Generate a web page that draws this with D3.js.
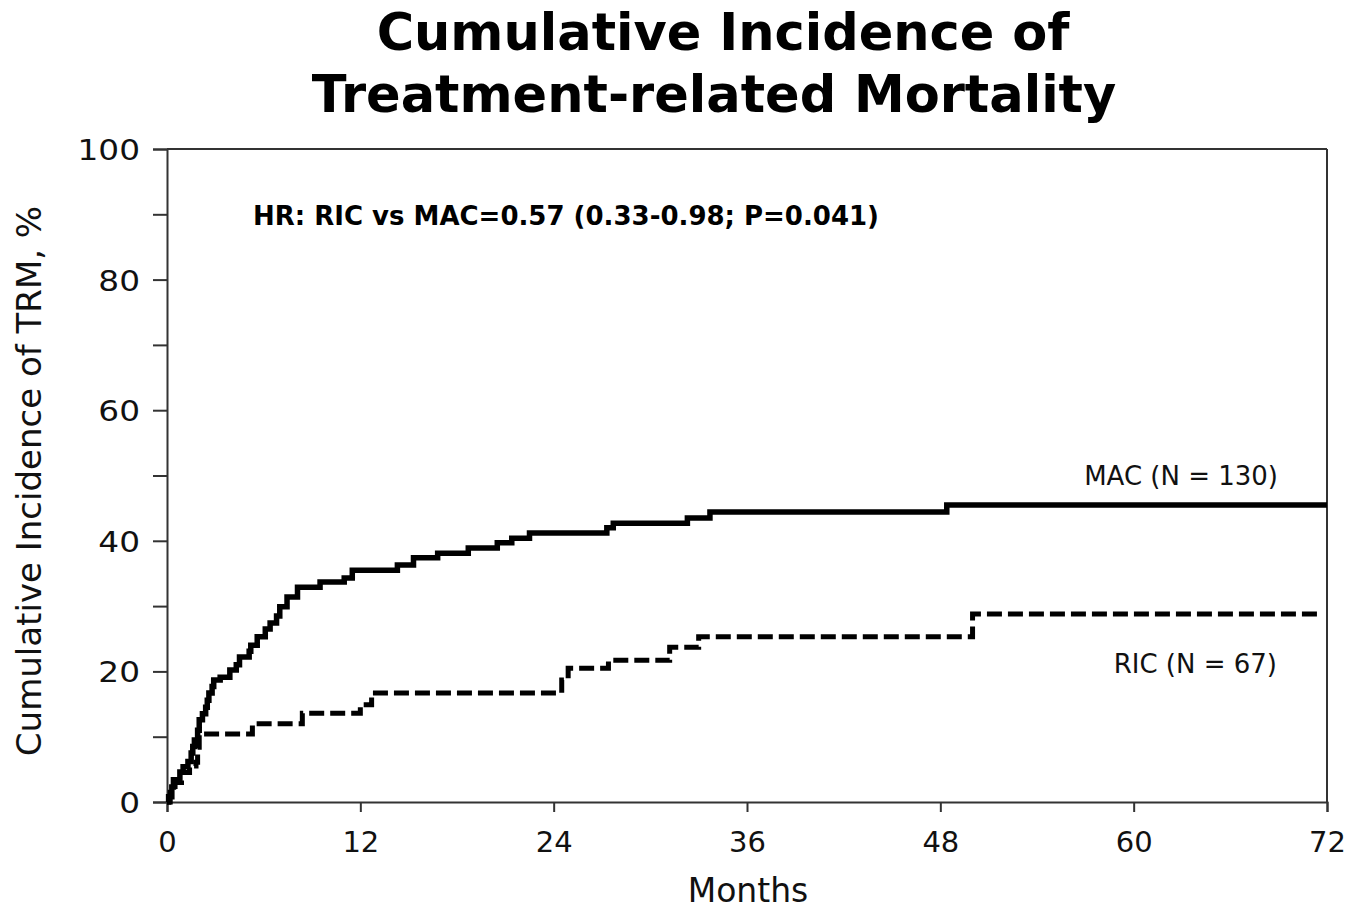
<!DOCTYPE html>
<html>
<head>
<meta charset="utf-8">
<script src="https://cdn.jsdelivr.net/npm/d3@7"></script>
<style>
  html, body { margin: 0; padding: 0; background: #fff; }
  svg { display: block; }
</style>
</head>
<body>
<svg id="chart" width="1364" height="911"></svg>
<script>
// ---- Data ----
const titleLines = ["Cumulative Incidence of", "Treatment-related Mortality"];
const xTicks = [0, 12, 24, 36, 48, 60, 72];
const yTicks = [0, 10, 20, 30, 40, 50, 60, 70, 80, 90, 100];
const yTickLabels = [0, 20, 40, 60, 80, 100];
const xLabel = "Months";
const yLabel = "Cumulative Incidence of TRM, %";
const annotation = "HR: RIC vs MAC=0.57 (0.33-0.98; P=0.041)";
const seriesNames = ["MAC (N = 130)", "RIC (N = 67)"];

// MAC: months and cumulative incidence (%)
const macMonths = [0, 0.1, 0.3, 0.4, 0.8, 1.0, 1.3, 1.5, 1.6, 1.7, 1.9, 2.0, 2.2, 2.4, 2.5, 2.6, 2.8, 2.9,
  3.3, 3.9, 4.3, 4.5, 5.1, 5.2, 5.6, 6.1, 6.4, 6.8, 7.0, 7.45, 8.1, 9.5, 11.0, 11.5, 14.3, 15.3, 16.8,
  18.7, 20.5, 21.4, 22.5, 27.3, 27.7, 32.3, 33.7, 48.4, 72];
const macValues = [0, 0.8, 2.3, 3.4, 4.6, 5.4, 6.2, 7.5, 8.5, 9.5, 11.0, 12.6, 13.5, 14.5, 15.6, 16.7, 17.7, 18.7,
  19.1, 20.2, 21.0, 22.2, 23.1, 24.0, 25.3, 26.5, 27.4, 28.5, 29.9, 31.4, 32.9, 33.7, 34.3, 35.5, 36.3, 37.4, 38.1,
  38.9, 39.7, 40.4, 41.2, 42.0, 42.7, 43.5, 44.4, 45.5, 45.5];

// RIC: months and cumulative incidence (%)
const ricMonths = [0, 0.2, 0.5, 0.9, 1.4, 1.8, 1.9, 2.0, 5.3, 8.4, 12.0, 12.7, 24.5, 24.9, 27.4, 31.2, 33.0, 50.0, 71.7];
const ricValues = [0, 1.5, 3.0, 4.5, 5.5, 6.1, 8.4, 10.4, 12.0, 13.6, 14.9, 16.7, 18.7, 20.5, 21.7, 23.7, 25.3, 28.8, 28.8];

// ---- Layout ----
const svg = d3.select("#chart");
svg.append("rect").attr("width", 1364).attr("height", 911).attr("fill", "#fff");

const x = d3.scaleLinear().domain([0, 72]).range([167, 1327]);
const y = d3.scaleLinear().domain([0, 100]).range([802, 149]);
const axisColor = "#333";
const font = "'DejaVu Sans', Verdana, sans-serif";

// Title
const titleX = [723, 714];
svg.append("g").selectAll("text").data(titleLines).join("text")
  .attr("x", (d, i) => titleX[i]).attr("y", (d, i) => 50 + i * 62)
  .attr("text-anchor", "middle")
  .attr("font-family", font).attr("font-weight", "bold")
  .attr("font-size", 51).attr("fill", "#000")
  .text(d => d);

// Frame (top and right)
svg.append("line").attr("x1", x(0)).attr("x2", x(72)).attr("y1", y(100)).attr("y2", y(100))
  .attr("stroke", axisColor).attr("stroke-width", 2);
svg.append("line").attr("x1", x(72)).attr("x2", x(72)).attr("y1", y(100)).attr("y2", y(0))
  .attr("stroke", axisColor).attr("stroke-width", 2);

// Y axis
const yAxis = d3.axisLeft(y).tickValues(yTicks).tickSize(14).tickPadding(13)
  .tickFormat(d => yTickLabels.includes(d) ? String(d) : "");
const gy = svg.append("g").attr("transform", `translate(${x(0)},0)`).call(yAxis);
gy.select(".domain").attr("stroke", axisColor).attr("stroke-width", 2);
gy.selectAll(".tick line").attr("stroke", axisColor).attr("stroke-width", 2);
gy.selectAll(".tick text").attr("font-family", font).attr("font-size", 29).attr("fill", "#111")
  .attr("dy", "0.36em")
  .attr("transform", function() { const xx = +d3.select(this).attr("x"); return `translate(${-xx * 0.13},0) scale(1.13,1)`; });

// X axis
const xAxis = d3.axisBottom(x).tickValues(xTicks).tickSize(10).tickPadding(19).tickFormat(d => String(d));
const gx = svg.append("g").attr("transform", `translate(0,${y(0)})`).call(xAxis);
gx.select(".domain").attr("stroke", axisColor).attr("stroke-width", 2);
gx.selectAll(".tick line").attr("stroke", axisColor).attr("stroke-width", 2);
gx.selectAll(".tick text").attr("font-family", font).attr("font-size", 29).attr("fill", "#111");

// Axis labels
svg.append("text").attr("x", 748).attr("y", 902).attr("text-anchor", "middle")
  .attr("font-family", font).attr("font-size", 33).attr("fill", "#111").text(xLabel);
svg.append("text").attr("transform", "translate(41,481) rotate(-90)").attr("text-anchor", "middle")
  .attr("font-family", font).attr("font-size", 34).attr("fill", "#111").text(yLabel);

// Annotation
svg.append("text").attr("x", 253).attr("y", 225)
  .attr("font-family", font).attr("font-weight", "bold").attr("font-size", 26).attr("fill", "#000")
  .text(annotation);

// Curves
const line = d3.line().x(d => x(d[0])).y(d => y(d[1])).curve(d3.curveStepAfter);
const macData = macMonths.map((m, i) => [m, macValues[i]]);
const ricData = ricMonths.map((m, i) => [m, ricValues[i]]);

svg.append("path").datum(ricData).attr("d", line)
  .attr("fill", "none").attr("stroke", "#000").attr("stroke-width", 5)
  .attr("stroke-dasharray", "15,6");
svg.append("path").datum(macData).attr("d", line)
  .attr("fill", "none").attr("stroke", "#000").attr("stroke-width", 5.5);

// Series labels
svg.append("text").attr("x", 1278).attr("y", 485).attr("text-anchor", "end")
  .attr("font-family", font).attr("font-size", 26).attr("fill", "#111").text(seriesNames[0]);
svg.append("text").attr("x", 1277).attr("y", 673).attr("text-anchor", "end")
  .attr("font-family", font).attr("font-size", 26).attr("fill", "#111").text(seriesNames[1]);
</script>
</body>
</html>
